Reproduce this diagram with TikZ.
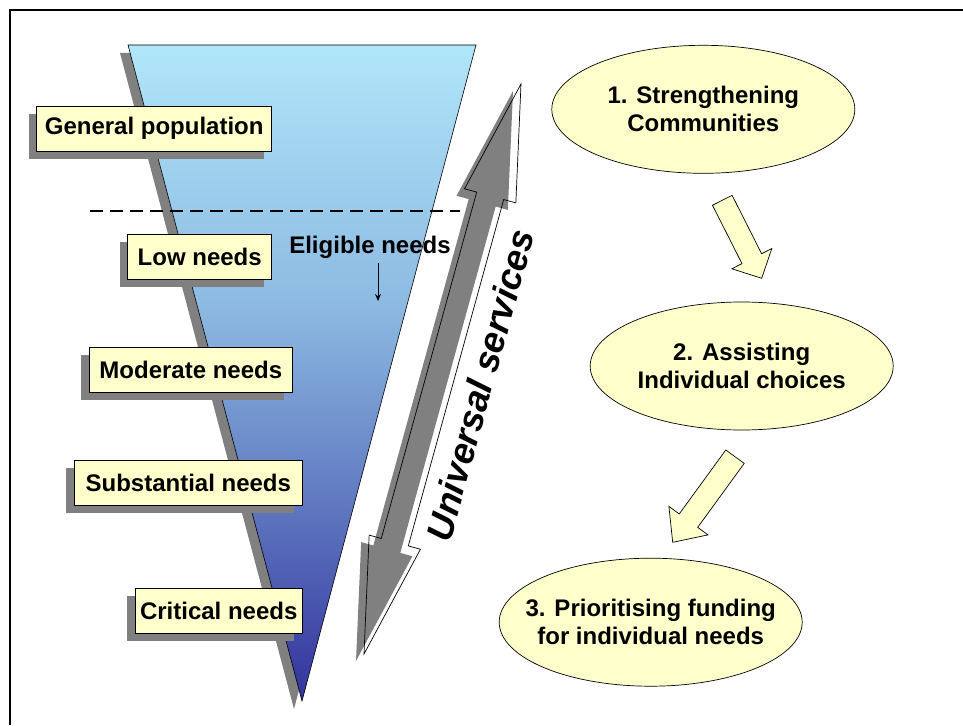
\documentclass[tikz,border=0pt]{standalone}
\usepackage{fontspec}
\setmainfont{Liberation Sans}
\usetikzlibrary{calc,shapes.geometric,shadows,arrows.meta}
\definecolor{boxfill}{RGB}{255,255,204}
\definecolor{shadowgray}{RGB}{128,128,128}
\definecolor{triTop}{RGB}{176,230,250}
\definecolor{triMidA}{RGB}{140,185,225}
\definecolor{triMidB}{RGB}{95,120,192}
\definecolor{triBot}{RGB}{50,50,155}
\pgfdeclareverticalshading{trishade}{100bp}{color(0bp)=(triBot); color(25bp)=(triBot); color(40bp)=(triMidB); color(55bp)=(triMidA); color(75bp)=(triTop); color(100bp)=(triTop)}
\newcommand\myblockarrow[5]{%
  \coordinate (#1hb) at ($(#2)!#5!(#1)$);
  \filldraw[fill=boxfill, draw=black, line width=0.7pt]
    ($(#1)!#3!90:(#2)$) -- ($(#1hb)!#3!90:(#2)$) -- ($(#1hb)!#4!90:(#2)$) -- (#2)
    -- ($(#1hb)!#4!-90:(#2)$) -- ($(#1hb)!#3!-90:(#2)$) -- ($(#1)!#3!-90:(#2)$) -- cycle;
}
\begin{document}
\begin{tikzpicture}[x=1pt, y=-1pt,
  font=\bfseries\fontsize{24}{27.8}\selectfont,
  labelbox/.style={draw=black, line width=0.7pt, fill=boxfill, minimum height=45pt, inner sep=0pt,
    general shadow={fill=shadowgray, shadow xshift=-8pt, shadow yshift=-8pt}},
  ell/.style={ellipse, draw=black, line width=0.7pt, fill=boxfill, minimum width=303pt,
    minimum height=128pt, inner xsep=-30pt, inner ysep=-10pt, align=center,
    font=\bfseries\fontsize{24}{27.8}\selectfont}]
\useasboundingbox (0,0) rectangle (963,725);

% frame
\coordinate (f1) at (10,10);
\coordinate (f2) at (963,10);
\coordinate (f3) at (10,725);
\draw[line width=2pt] (f2) -- (f1) -- (f3);

% funnel triangle
\coordinate (tl) at (128,45);
\coordinate (tr) at (476,45);
\coordinate (tb) at (302,701);
\fill[shadowgray, transform canvas={xshift=-8pt,yshift=-8pt}] (tl) -- (tr) -- (tb) -- cycle;
\shadedraw[shading=trishade, draw=black, line width=0.6pt] (tl) -- (tr) -- (tb) -- cycle;

% dashed line
\coordinate (d1) at (90,211);
\coordinate (d2) at (460,211);
\draw[line width=2pt, dash pattern=on 13pt off 7pt] (d1) -- (d2);

% labels
\node[labelbox, minimum width=235pt] (gp) at (154.2,128.5) {General population};
\node[labelbox, minimum width=144pt] (low) at (199.7,256.5) {Low needs};
\node[labelbox, minimum width=203pt] (mod) at (190.8,369.8) {Moderate needs};
\node[labelbox, minimum width=228pt] (sub) at (188.3,482.8) {Substantial needs};
\node[labelbox, minimum width=167pt] (crit) at (218.7,610.8) {Critical needs};

% eligible needs
\node (el) at (370,247) {Eligible needs};
\coordinate (ea) at (378,263);
\coordinate (eb) at (378,301);
\draw[line width=0.8pt, -{Stealth[length=7pt,width=6pt]}] (ea) -- (eb);

% universal services double arrow
\coordinate (ua) at (521,84);
\coordinate (ub) at (364,654);
\coordinate (hA) at ($(ua)!116pt!(ub)$);
\coordinate (hB) at ($(ub)!116pt!(ua)$);
\coordinate (R1) at ($(hA)!26.6pt!90:(ub)$);
\coordinate (R2) at ($(hA)!14pt!90:(ub)$);
\coordinate (L2) at ($(hA)!14pt!-90:(ub)$);
\coordinate (L1) at ($(hA)!26.6pt!-90:(ub)$);
\coordinate (R3) at ($(hB)!14pt!-90:(ua)$);
\coordinate (R4) at ($(hB)!26.6pt!-90:(ua)$);
\coordinate (L3) at ($(hB)!14pt!90:(ua)$);
\coordinate (L4) at ($(hB)!26.6pt!90:(ua)$);
\fill[shadowgray, transform canvas={xshift=-8pt,yshift=-7pt}]
  (ua) -- (R1) -- (R2) -- (R3) -- (R4) -- (ub) -- (L4) -- (L3) -- (L2) -- (L1) -- cycle;
\draw[black, line width=0.7pt]
  (ua) -- (R1) -- (R2) -- (R3) -- (R4) -- (ub) -- (L4) -- (L3) -- (L2) -- (L1) -- cycle;
\node[rotate=74.6, font=\bfseries\itshape\fontsize{36.5}{42}\selectfont] (us) at (480,385) {Universal services};

% ellipses
\node[ell] (e1) at (703.3,109.3) {1. Strengthening\\Communities};
\node[ell] (e2) at (741.7,366) {2. Assisting\\Individual choices};
\node[ell] (e3) at (650.7,622.2) {3. Prioritising funding\\for individual needs};

% block arrows
\coordinate (a1s) at (722.3,200.3);
\coordinate (a1e) at (761.7,278.3);
\coordinate (a2s) at (735,456.7);
\coordinate (a2e) at (672.7,542.3);
\myblockarrow{a1s}{a1e}{11pt}{22.4pt}{22pt}
\myblockarrow{a2s}{a2e}{11.4pt}{24.2pt}{26.8pt}
\end{tikzpicture}
\end{document}
